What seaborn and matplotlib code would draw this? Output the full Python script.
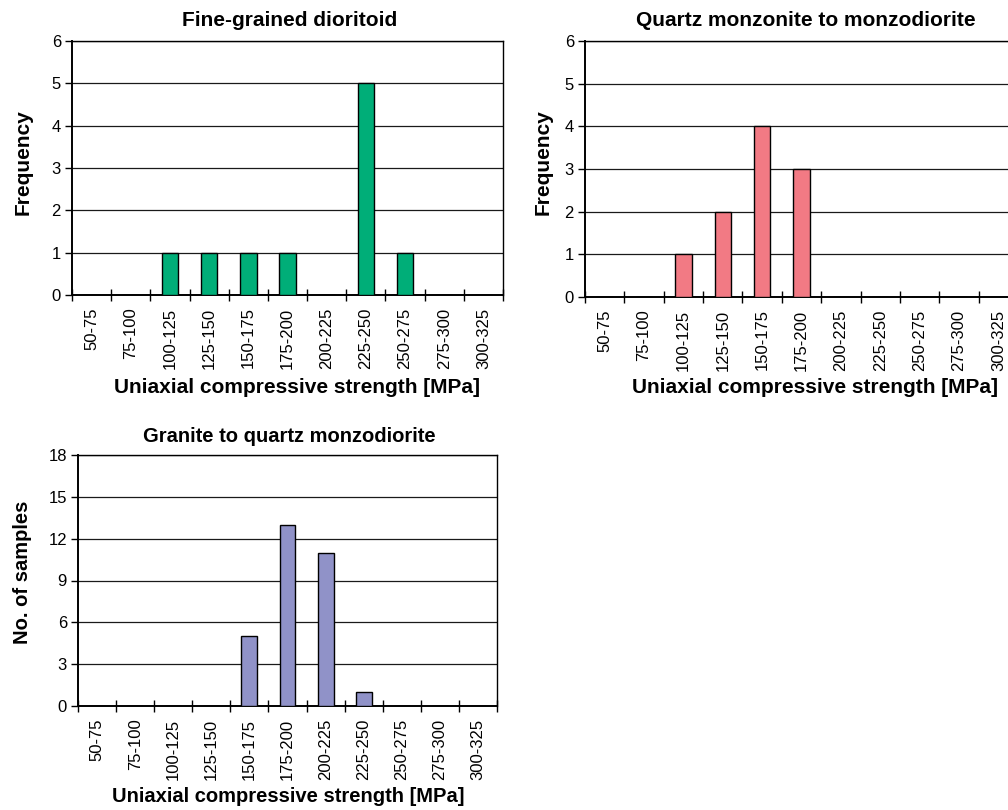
import numpy as np
import pandas as pd
import matplotlib
matplotlib.use("Agg")
import matplotlib.pyplot as plt
import seaborn as sns
from matplotlib.ticker import FixedLocator, NullFormatter

# Strength classes (MPa) and counts per rock type
categories = ["50-75", "75-100", "100-125", "125-150", "150-175", "175-200",
              "200-225", "225-250", "250-275", "275-300", "300-325"]
dioritoid = [0, 0, 1, 1, 1, 1, 0, 5, 1, 0, 0]
monzonite = [0, 0, 1, 2, 4, 3, 0, 0, 0, 0, 0]
granite = [0, 0, 0, 0, 5, 13, 11, 1, 0, 0, 0]

titles = ["Fine-grained dioritoid", "Quartz monzonite to monzodiorite",
          "Granite to quartz monzodiorite"]
ylabels = ["Frequency", "Frequency", "No. of samples"]
xlabel = "Uniaxial compressive strength [MPa]"
colors = ["#00AE78", "#F27A84", "#9092C8"]

sns.set_theme(style="white")
plt.rcParams["font.family"] = ["Liberation Sans", "DejaVu Sans"]
plt.rcParams["text.color"] = "black"
plt.rcParams["xtick.color"] = "black"
plt.rcParams["ytick.color"] = "black"

W, H = 1008, 810
fig = plt.figure(figsize=(W / 100, H / 100), dpi=100)


def px_axes(left, top, right, bottom):
    return fig.add_axes([left / W, 1 - bottom / H, (right - left) / W, (bottom - top) / H])


panels = [
    dict(box=(72, 41, 503, 295), vals=dioritoid, ymax=6, ystep=1,
         ylab=(23, 162), xlab=(297, 387), title=(290, 20), fs=15),
    dict(box=(585, 41, 1018, 297), vals=monzonite, ymax=6, ystep=1,
         ylab=(543, 162), xlab=(815, 388), title=(806, 20), fs=15),
    dict(box=(78, 455, 497, 706), vals=granite, ymax=18, ystep=3,
         ylab=(23, 572), xlab=(288, 797), title=(289, 436), fs=14.5),
]

for i, p in enumerate(panels):
    left, top, right, bottom = p["box"]
    ax = px_axes(left, top, right, bottom)
    df = pd.DataFrame({"cls": categories, "n": p["vals"]})
    sns.barplot(data=df, x="cls", y="n", order=categories, color=colors[i],
                saturation=1, width=0.42, edgecolor="black", linewidth=1.0,
                ax=ax, zorder=3)
    ax.set_xlim(-0.5, len(categories) - 0.5)
    ax.set_ylim(0, p["ymax"])
    yt = np.arange(0, p["ymax"] + 0.01, p["ystep"])
    ax.set_yticks(yt)
    ax.set_yticklabels([str(int(v)) for v in yt], fontsize=12)
    ax.yaxis.grid(True, color="#1a1a1a", linewidth=0.9)
    ax.set_axisbelow(True)

    # class boundaries carry the tick marks, labels sit at class centres
    ax.xaxis.set_major_locator(FixedLocator(np.arange(-0.5, len(categories), 1.0)))
    ax.xaxis.set_major_formatter(NullFormatter())
    ax.set_xticks(np.arange(len(categories)), minor=True)
    ax.set_xticklabels(categories, minor=True, rotation=90, fontsize=12)
    ax.tick_params(axis="x", which="major", direction="inout", length=8,
                   width=1.0, color="black", bottom=True)
    ax.tick_params(axis="x", which="minor", length=0, pad=9, bottom=True)
    ax.tick_params(axis="y", direction="out", length=5, width=1.0,
                   color="black", left=True, pad=3)

    for s in ["left", "bottom"]:
        ax.spines[s].set_color("black")
        ax.spines[s].set_linewidth(1.4)
    for s in ["right", "top"]:
        ax.spines[s].set_color("black")
        ax.spines[s].set_linewidth(1.0)

    ax.set_xlabel("")
    ax.set_ylabel("")
    fs = p["fs"]
    tx, ty = p["title"]
    fig.text(tx / W, 1 - ty / H, titles[i], ha="center", va="center",
             fontsize=fs, fontweight="bold")
    lx, ly = p["xlab"]
    fig.text(lx / W, 1 - ly / H, xlabel, ha="center", va="center",
             fontsize=fs, fontweight="bold")
    yx, yy = p["ylab"]
    fig.text(yx / W, 1 - yy / H, ylabels[i], ha="center", va="center",
             rotation=90, fontsize=fs, fontweight="bold")

fig.savefig("out.png", dpi=100, facecolor="white")
